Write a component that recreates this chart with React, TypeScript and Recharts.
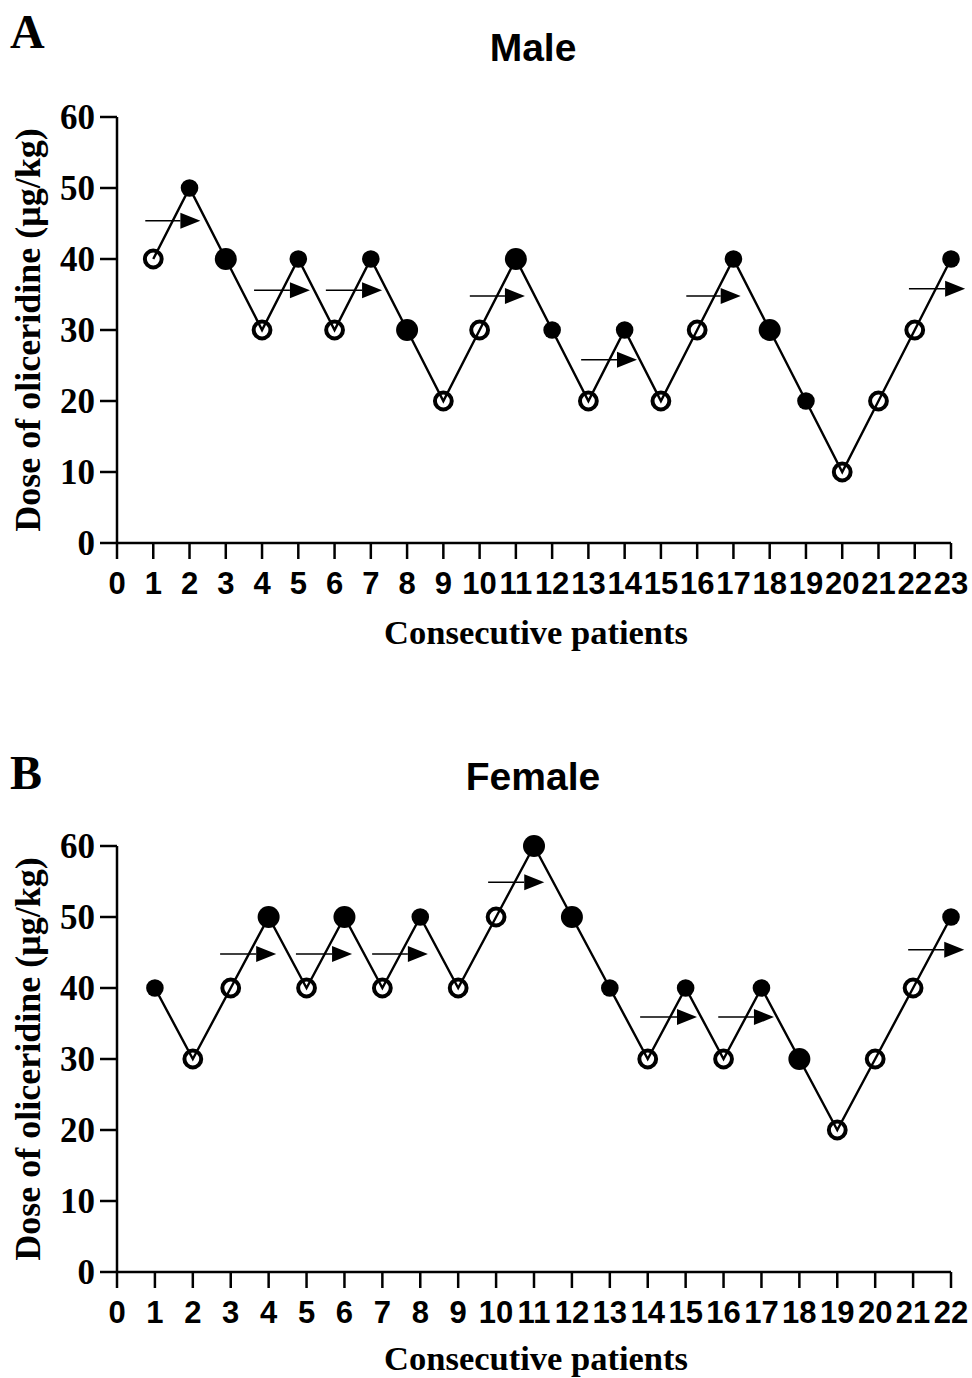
import React from 'react';
import { LineChart, Line, XAxis, YAxis, ReferenceLine } from 'recharts';

// o = open circle, s = small filled, L = large filled
const maleDose = [40, 50, 40, 30, 40, 30, 40, 30, 20, 30, 40, 30, 20, 30, 20, 30, 40, 30, 20, 10, 20, 30, 40];
const maleMark = ['o', 's', 'L', 'o', 's', 'o', 's', 'L', 'o', 'o', 'L', 's', 'o', 's', 'o', 'o', 's', 'L', 's', 'o', 'o', 'o', 's'];
const maleTicks = [0, 1, 2, 3, 4, 5, 6, 7, 8, 9, 10, 11, 12, 13, 14, 15, 16, 17, 18, 19, 20, 21, 22, 23];
const maleArrows = [
  { from: 0.78, to: 2.3, level: 45.4 },
  { from: 3.78, to: 5.32, level: 35.6 },
  { from: 5.76, to: 7.31, level: 35.6 },
  { from: 9.73, to: 11.25, level: 34.8 },
  { from: 12.8, to: 14.34, level: 25.8 },
  { from: 15.7, to: 17.2, level: 34.8 },
  { from: 21.84, to: 23.39, level: 35.8 },
];

const femaleDose = [40, 30, 40, 50, 40, 50, 40, 50, 40, 50, 60, 50, 40, 30, 40, 30, 40, 30, 20, 30, 40, 50];
const femaleMark = ['s', 'o', 'o', 'L', 'o', 'L', 'o', 's', 'o', 'o', 'L', 'L', 's', 'o', 's', 'o', 's', 'L', 'o', 'o', 'o', 's'];
const femaleTicks = [0, 1, 2, 3, 4, 5, 6, 7, 8, 9, 10, 11, 12, 13, 14, 15, 16, 17, 18, 19, 20, 21, 22];
const femaleArrows = [
  { from: 2.72, to: 4.2, level: 44.8 },
  { from: 4.72, to: 6.2, level: 44.8 },
  { from: 6.73, to: 8.2, level: 44.8 },
  { from: 9.79, to: 11.27, level: 54.9 },
  { from: 13.8, to: 15.3, level: 35.9 },
  { from: 15.86, to: 17.33, level: 35.9 },
  { from: 20.87, to: 22.35, level: 45.4 },
];

const doseTicks = [0, 10, 20, 30, 40, 50, 60];

const SERIF = '"Liberation Serif", "Times New Roman", serif';
const SANS = '"Liberation Sans", Arial, sans-serif';

const W = 972;
const H = 660;

const renderDot = (props: any) => {
  const { cx, cy, payload, index } = props;
  if (cx == null || cy == null) return <g key={index} />;
  if (payload.mark === 'o') {
    return <circle key={index} cx={cx} cy={cy} r={8.4} fill="none" stroke="#000" strokeWidth={4} />;
  }
  const r = payload.mark === 'L' ? 11 : 8.8;
  return <circle key={index} cx={cx} cy={cy} r={r} fill="#000" stroke="none" />;
};

const ArrowShape = (props: any) => {
  const { x1, y1, x2 } = props;
  if (x1 == null) return null;
  const head = 20;
  return (
    <g>
      <line x1={x1} y1={y1} x2={x2 - head} y2={y1} stroke="#000" strokeWidth={1.5} />
      <polygon points={`${x2 - head},${y1 - 8} ${x2},${y1} ${x2 - head},${y1 + 8}`} fill="#000" />
    </g>
  );
};

interface PanelProps {
  top: number;
  letter: string;
  title: string;
  dose: number[];
  marks: string[];
  ticks: number[];
  arrows: { from: number; to: number; level: number }[];
  letterY: number;
  labelY: number;
}

const Panel: React.FC<PanelProps> = ({ top, letter, title, dose, marks, ticks, arrows, letterY, labelY }) => {
  const data = dose.map((d, i) => ({ patient: i + 1, dose: d, mark: marks[i] }));
  const maxX = ticks[ticks.length - 1];
  return (
    <div style={{ position: 'absolute', left: 0, top, width: W, height: H }}>
      <LineChart width={W} height={H} data={data} margin={{ top: 117, right: 21, bottom: 77, left: 17 }}>
        <XAxis
          dataKey="patient"
          type="number"
          domain={[0, maxX]}
          ticks={ticks}
          interval={0}
          height={40}
          tickSize={16}
          tickMargin={13}
          axisLine={{ stroke: '#000', strokeWidth: 2.5 }}
          tickLine={{ stroke: '#000', strokeWidth: 2.5 }}
          tick={{ fill: '#000', fontSize: 31, fontWeight: 'bold', fontFamily: SANS }}
        />
        <YAxis
          type="number"
          domain={[0, 60]}
          ticks={doseTicks}
          width={100}
          tickSize={17}
          tickMargin={5}
          axisLine={{ stroke: '#000', strokeWidth: 2.5 }}
          tickLine={{ stroke: '#000', strokeWidth: 2.5 }}
          tick={{ fill: '#000', fontSize: 35, fontWeight: 'bold', fontFamily: SERIF }}
        />
        <Line
          type="linear"
          dataKey="dose"
          stroke="#000"
          strokeWidth={2.4}
          dot={renderDot}
          activeDot={false}
          isAnimationActive={false}
        />
        {arrows.map((a, i) => (
          <ReferenceLine
            key={i}
            ifOverflow="visible"
            segment={[{ x: a.from, y: a.level }, { x: a.to, y: a.level }]}
            shape={ArrowShape}
          />
        ))}
      </LineChart>
      <svg width={W} height={H} style={{ position: 'absolute', left: 0, top: 0, pointerEvents: 'none' }}>
        <text x={10} y={letterY} fontFamily={SERIF} fontWeight="bold" fontSize={48} fill="#000">{letter}</text>
        <text x={533} y={61} textAnchor="middle" fontFamily={SANS} fontWeight="bold" fontSize={39} fill="#000">{title}</text>
        <text transform="translate(40,330) rotate(-90)" textAnchor="middle" fontFamily={SERIF} fontWeight="bold" fontSize={36} fill="#000">
          Dose of oliceridine (μg/kg)
        </text>
        <text x={536} y={labelY} textAnchor="middle" fontFamily={SERIF} fontWeight="bold" fontSize={34.5} fill="#000">
          Consecutive patients
        </text>
      </svg>
    </div>
  );
};

export default function App() {
  return (
    <div style={{ position: 'absolute', left: 0, top: 0, width: W, height: 1378, background: '#fff', overflow: 'hidden' }}>
      <Panel top={0} letter="A" title="Male" dose={maleDose} marks={maleMark} ticks={maleTicks} arrows={maleArrows} letterY={48} labelY={644} />
      <Panel top={729} letter="B" title="Female" dose={femaleDose} marks={femaleMark} ticks={femaleTicks} arrows={femaleArrows} letterY={60} labelY={641} />
    </div>
  );
}
